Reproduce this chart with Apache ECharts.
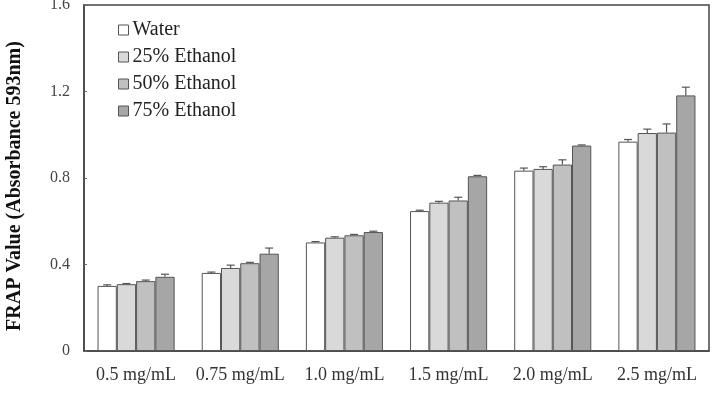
<!DOCTYPE html>
<html>
<head>
<meta charset="utf-8">
<script src="https://cdn.jsdelivr.net/npm/echarts@6/dist/echarts.min.js"></script>
<style>
  html, body { margin: 0; padding: 0; background: #fff; }
  #chart { width: 716px; height: 402px; }
</style>
</head>
<body>
<div id="chart"></div>
<script>
var categories = ['0.5 mg/mL', '0.75 mg/mL', '1.0 mg/mL', '1.5 mg/mL', '2.0 mg/mL', '2.5 mg/mL'];
var seriesNames = ['Water', '25% Ethanol', '50% Ethanol', '75% Ethanol'];
var water = [0.301, 0.361, 0.502, 0.647, 0.834, 0.968];
var eth25 = [0.309, 0.384, 0.524, 0.686, 0.842, 1.008];
var eth50 = [0.323, 0.406, 0.535, 0.696, 0.862, 1.010];
var eth75 = [0.343, 0.450, 0.550, 0.808, 0.950, 1.182];
var waterErr = [0.005, 0.004, 0.004, 0.004, 0.012, 0.010];
var eth25Err = [0.003, 0.013, 0.004, 0.006, 0.010, 0.018];
var eth50Err = [0.005, 0.004, 0.004, 0.015, 0.022, 0.040];
var eth75Err = [0.012, 0.026, 0.004, 0.004, 0.003, 0.038];
var yTicks = [0, 0.4, 0.8, 1.2, 1.6];

var values = [water, eth25, eth50, eth75];
var errors = [waterErr, eth25Err, eth50Err, eth75Err];
var colors = ['#ffffff', '#d9d9d9', '#c0c0c0', '#a6a6a6'];
var gapRatio = 0.26;
var serif = '"Liberation Serif", "Times New Roman", serif';

var series = [];
values.forEach(function (vals, i) {
    series.push({
        name: seriesNames[i],
        type: 'bar',
        data: vals,
        barGap: '0%',
        barCategoryGap: (gapRatio * 100) + '%',
        itemStyle: { color: colors[i], borderColor: '#555', borderWidth: 1 }
    });
});

// error bars (upper half only), placed over each bar of the group
values.forEach(function (vals, i) {
    series.push({
        type: 'custom',
        silent: true,
        z: 5,
        data: vals.map(function (v, k) { return [k, v, v + errors[i][k]]; }),
        renderItem: function (params, api) {
            var catW = api.size([1, 0])[0];
            var bw = catW * (1 - gapRatio) / 4;
            var off = (i - 1.5) * bw;
            var top = api.coord([api.value(0), api.value(1)]);
            var hi = api.coord([api.value(0), api.value(2)]);
            var x = top[0] + off;
            var style = { stroke: '#555', lineWidth: 1.2 };
            return {
                type: 'group',
                children: [
                    { type: 'line', shape: { x1: x, y1: top[1], x2: x, y2: hi[1] }, style: style },
                    { type: 'line', shape: { x1: x - 4, y1: hi[1], x2: x + 4, y2: hi[1] }, style: style }
                ]
            };
        }
    });
});

var chart = echarts.init(document.getElementById('chart'));
chart.setOption({
    animation: false,
    grid: {
        left: 84, right: 7, top: 5, bottom: 51,
        outerBoundsMode: 'none',
        containLabel: false,
        show: true, borderColor: '#444', borderWidth: 1.5
    },
    legend: {
        orient: 'vertical',
        left: 113, top: 15,
        icon: 'rect',
        itemWidth: 10, itemHeight: 10,
        itemGap: 7,
        textStyle: { fontFamily: serif, fontSize: 20, color: '#222', padding: [0, 0, 0, -1] },
        data: seriesNames.map(function (n, i) {
            return { name: n, itemStyle: { color: colors[i], borderColor: '#555', borderWidth: 1 } };
        })
    },
    xAxis: {
        type: 'category',
        data: categories,
        axisLine: { lineStyle: { color: '#444', width: 1.5 } },
        axisTick: { show: false },
        axisLabel: { fontFamily: serif, fontSize: 18, color: '#333', margin: 15, interval: 0, hideOverlap: false }
    },
    yAxis: {
        type: 'value',
        min: yTicks[0], max: yTicks[yTicks.length - 1], interval: 0.4,
        name: 'FRAP Value (Absorbance 593nm)',
        nameLocation: 'middle',
        nameGap: 59,
        nameTextStyle: {
            fontFamily: serif, fontSize: 20, fontWeight: 'bold', color: '#111',
            padding: [0, 16, 0, 0]
        },
        axisLine: { show: true, lineStyle: { color: '#444', width: 1.5 } },
        axisTick: { show: true, inside: true, length: 3, lineStyle: { color: '#666' } },
        splitLine: { show: false },
        axisLabel: {
            fontFamily: serif, fontSize: 16, color: '#444', margin: 14,
            formatter: function (v) { return v === 0 ? '0' : v.toFixed(1); }
        }
    },
    series: series
});
</script>
</body>
</html>
